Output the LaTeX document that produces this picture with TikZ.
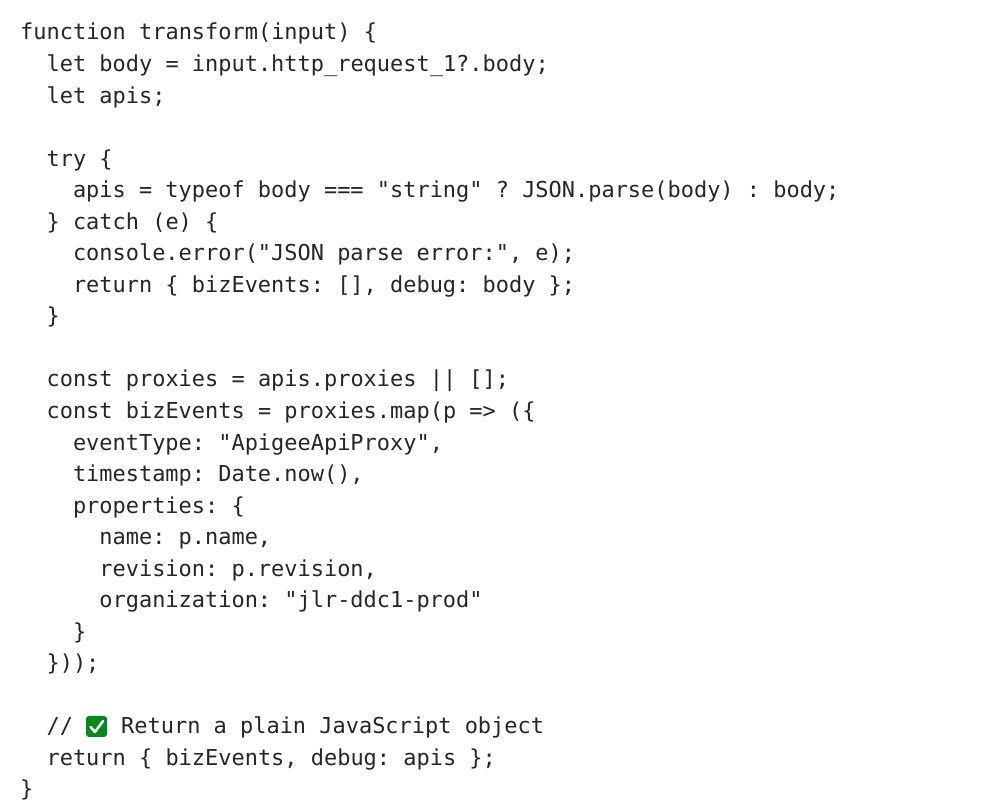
\documentclass[tikz,border=0pt]{standalone}
\usepackage{fontspec}
\setmonofont{DejaVu Sans Mono}
\begin{document}
\begin{tikzpicture}[x=1pt,y=1pt,
  code/.style={anchor=base west,inner sep=0pt,font=\ttfamily\fontsize{21.95}{24}\selectfont,text=black!85}]
\useasboundingbox (0,0) rectangle (999,810);
\fill[white] (0,0) rectangle (999,810);
\def\L#1#2#3{\node[code] (l#1) at ({20+13.2*#2},{810-40-31.54*(#1-1)}) {#3};}
\L{1}{0}{function transform(input) \{}
\L{2}{2}{let body = input.http\_request\_1?.body;}
\L{3}{2}{let apis;}
\L{5}{2}{try \{}
\L{6}{4}{apis = typeof body === "string" ? JSON.parse(body) : body;}
\L{7}{2}{\} catch (e) \{}
\L{8}{4}{console.error("JSON parse error:", e);}
\L{9}{4}{return \{ bizEvents: [], debug: body \};}
\L{10}{2}{\}}
\L{12}{2}{const proxies = apis.proxies || [];}
\L{13}{2}{const bizEvents = proxies.map(p => (\{}
\L{14}{4}{eventType: "ApigeeApiProxy",}
\L{15}{4}{timestamp: Date.now(),}
\L{16}{4}{properties: \{}
\L{17}{6}{name: p.name,}
\L{18}{6}{revision: p.revision,}
\L{19}{6}{organization: "jlr-ddc1-prod"}
\L{20}{4}{\}}
\L{21}{2}{\}));}
\L{23}{2}{//}
\node[code] (l23b) at (121,{810-40-31.54*22}) {Return a plain JavaScript object};
\L{24}{2}{return \{ bizEvents, debug: apis \};}
\L{25}{0}{\}}
% check emoji
\fill[green!55!black!80!teal, rounded corners=3pt] (86,{810-737}) rectangle (107,{810-716}) coordinate (chk);
\draw[white,line width=2.6pt,line cap=round,line join=round] (90.5,{810-727}) -- (95,{810-732}) -- (103,{810-721});
\end{tikzpicture}
\end{document}
